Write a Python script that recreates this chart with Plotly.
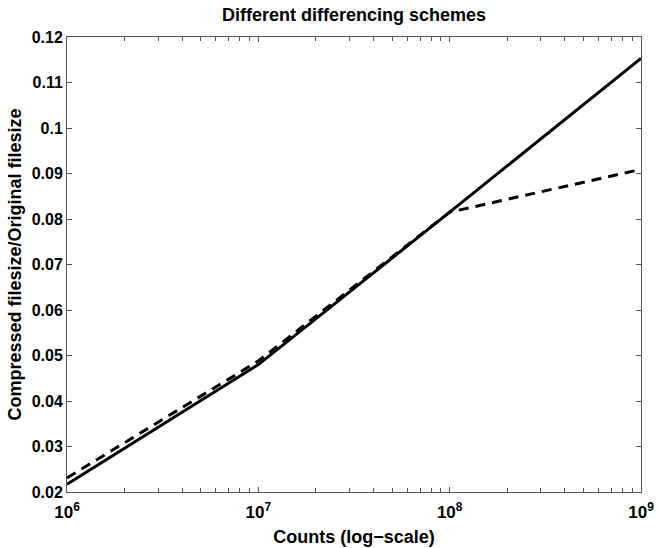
import plotly.graph_objects as go

counts = [1e6, 1e7, 1e8, 1e9]
solid_vals = [0.0217, 0.0480, 0.0815, 0.1153]
dashed_vals = [0.0231, 0.0488, 0.0815, 0.0909]

xtick_vals = [1e6, 1e7, 1e8, 1e9]
xtick_text = ["10<sup>6</sup>", "10<sup>7</sup>", "10<sup>8</sup>", "10<sup>9</sup>"]
minor_mult = [2, 3, 4, 5, 6, 7, 8, 9]
decades = [1e6, 1e7, 1e8]
xminor_vals = [m * d for d in decades for m in minor_mult]
ytick_vals = [0.02, 0.03, 0.04, 0.05, 0.06, 0.07, 0.08, 0.09, 0.10, 0.11, 0.12]
ytick_text = ["0.02", "0.03", "0.04", "0.05", "0.06", "0.07", "0.08", "0.09", "0.1", "0.11", "0.12"]

FONT = "Liberation Sans, Arial, sans-serif"

fig = go.Figure()
fig.add_trace(go.Scatter(x=counts, y=solid_vals, mode="lines",
                         line=dict(color="black", width=3), showlegend=False))
fig.add_trace(go.Scatter(x=counts, y=dashed_vals, mode="lines",
                         line=dict(color="black", width=3, dash="10px,7px"), showlegend=False))

axis_common = dict(showgrid=False, zeroline=False, showline=True, linecolor="#555555",
                   linewidth=1, mirror="ticks", ticks="inside", ticklen=5,
                   tickcolor="#555555", automargin=False)

fig.update_xaxes(type="log", range=[6, 9], tickvals=xtick_vals, ticktext=xtick_text,
                 tickfont=dict(family=FONT, size=17, color="black", weight="bold"),
                 ticklabelstandoff=5,
                 minor=dict(tickmode="array", tickvals=xminor_vals, ticks="inside", ticklen=4,
                            tickcolor="#555555", showgrid=False),
                 title=dict(text="Counts (log\u2212scale)", standoff=8,
                            font=dict(family=FONT, size=18, color="black", weight="bold")),
                 **axis_common)
fig.update_yaxes(range=[0.02, 0.12], tickvals=ytick_vals, ticktext=ytick_text,
                 tickfont=dict(family=FONT, size=16, color="black", weight="bold"),
                 title=dict(text="Compressed filesize/Original filesize", standoff=5,
                            font=dict(family=FONT, size=18, color="black", weight="bold")),
                 **axis_common)

fig.update_layout(
    width=659, height=548,
    margin=dict(l=67, r=18, t=37, b=56),
    plot_bgcolor="white", paper_bgcolor="white",
    title=dict(text="Different differencing schemes", x=0.5, xanchor="center",
               xref="paper", y=1, yref="container", yanchor="top", pad=dict(t=8),
               font=dict(family=FONT, size=18, color="black", weight="bold")),
)

fig.write_html("out.html")
